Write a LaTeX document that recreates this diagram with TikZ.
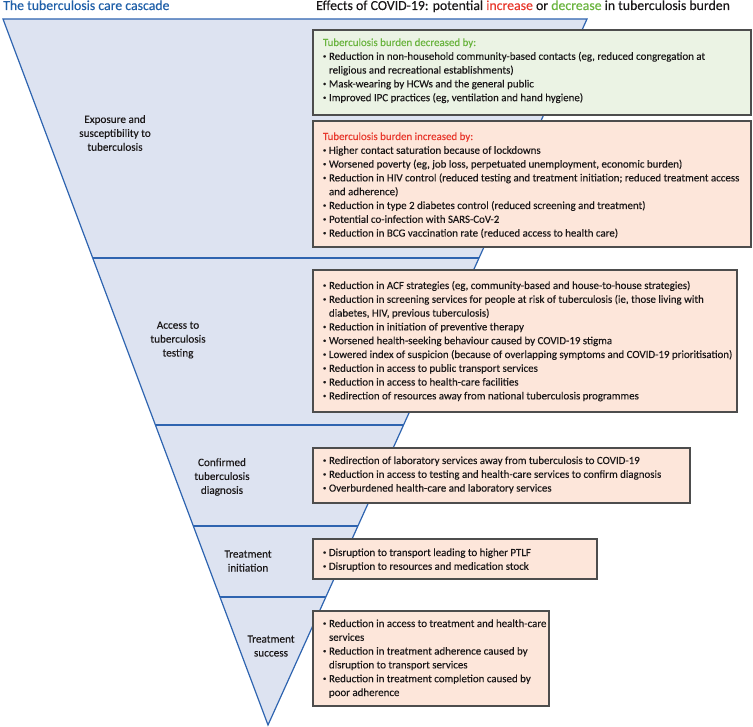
\documentclass[tikz,border=0pt]{standalone}
\usepackage{fontspec}
\setmainfont{Carlito}[UprightFeatures={FakeBold=0.2}]
\usepackage{graphicx}
\usetikzlibrary{calc}
\definecolor{cfill}{HTML}{DDE3F1}
\definecolor{cline}{HTML}{2E64B0}
\definecolor{thead}{HTML}{1F5FA8}
\definecolor{gfill}{HTML}{EBF3E4}
\definecolor{ofill}{HTML}{FDE6DA}
\definecolor{bord}{HTML}{4D4D4D}
\definecolor{tred}{HTML}{E8392E}
\definecolor{tgreen}{HTML}{6AB43F}
\definecolor{tbody}{HTML}{1A1718}
\newcommand{\bodyfont}{\fontsize{10.9}{13.8}\selectfont}
\newcommand{\itm}[1]{\par\noindent\makebox[6pt][l]{\raisebox{0.3ex}{\scalebox{0.6}{\textbullet}}}#1}
\newcommand{\cont}{\\\hspace*{6pt}}
\newcommand{\boxtext}[1]{\parbox[t]{432pt}{\bodyfont\raggedright\parindent=0pt\parskip=0pt #1}}
\tikzset{
  cascade/.style={fill=cfill, draw=cline, line width=1.2pt, line join=miter},
  sepline/.style={draw=cline, line width=1.2pt},
  ebox/.style={draw=bord, line width=1.1pt, anchor=north west, inner sep=0pt, outer sep=0pt},
  gbox/.style={ebox, fill=gfill},
  obox/.style={ebox, fill=ofill},
  txt/.style={anchor=base west, inner sep=0pt, outer sep=0pt, text=tbody},
  lab/.style={align=center, inner sep=0pt, text=tbody, font=\fontsize{11.2}{13.9}\selectfont},
  head/.style={anchor=base west, inner sep=0pt, font=\fontsize{13.8}{15}\selectfont}
}
\begin{document}
\begin{tikzpicture}[x=1pt,y=-1pt]
\useasboundingbox (0,0) rectangle (753,727);
% headers
\node[head, text=thead] (h1) at (3,10) {The tuberculosis care cascade};
\node[head, text=tbody] (h2) at (316,10) {Effects of COVID-19: potential \textcolor{tred}{increase} or \textcolor{tgreen}{decrease} in tuberculosis burden};
% cascade
\coordinate (tl) at (3,19);
\coordinate (tr) at (587,19);
\coordinate (ap) at (268,725);
\draw[cascade] (tl) -- (tr) -- (ap) -- cycle;
\foreach \yy in {258,425,526,597}
  \draw[sepline] ($(tl)!{(\yy-19)/706}!(ap)$) -- ($(tr)!{(\yy-19)/706}!(ap)$);
% labels
\node[lab] (l1) at (115,133) {Exposure and\\susceptibility to\\tuberculosis};
\node[lab] (l2) at (178,340) {Access to\\tuberculosis\\testing};
\node[lab] (l3) at (222,477) {Confirmed\\tuberculosis\\diagnosis};
\node[lab] (l4) at (248,561) {Treatment\\initiation};
\node[lab] (l5) at (271,646) {Treatment\\success};
% boxes
\node[gbox, minimum width=438pt, minimum height=85pt] (b1) at (313,30) {};
\node[obox, minimum width=438pt, minimum height=126pt] (b2) at (313,121) {};
\node[obox, minimum width=424pt, minimum height=142pt] (b3) at (313,270) {};
\node[obox, minimum width=377pt, minimum height=55pt] (b4) at (313,448) {};
\node[obox, minimum width=284pt, minimum height=40pt] (b5) at (313,539) {};
\node[obox, minimum width=236pt, minimum height=95pt] (b6) at (313,611) {};
% box texts
\node[txt] (t1) at (323,46) {\boxtext{%
\noindent\textcolor{tgreen}{Tuberculosis burden decreased by:}
\itm{Reduction in non-household community-based contacts (eg, reduced congregation at\cont religious and recreational establishments)}
\itm{Mask-wearing by HCWs and the general public}
\itm{Improved IPC practices (eg, ventilation and hand hygiene)}}};
\node[txt] (t2) at (323,140) {\boxtext{%
\noindent\textcolor{tred}{Tuberculosis burden increased by:}
\itm{Higher contact saturation because of lockdowns}
\itm{Worsened poverty (eg, job loss, perpetuated unemployment, economic burden)}
\itm{Reduction in HIV control (reduced testing and treatment initiation; reduced treatment access\cont and adherence)}
\itm{Reduction in type 2 diabetes control (reduced screening and treatment)}
\itm{Potential co-infection with SARS-CoV-2}
\itm{Reduction in BCG vaccination rate (reduced access to health care)}}};
\node[txt] (t3) at (323,289) {\boxtext{%
\itm{Reduction in ACF strategies (eg, community-based and house-to-house strategies)}
\itm{Reduction in screening services for people at risk of tuberculosis (ie, those living with\cont diabetes, HIV, previous tuberculosis)}
\itm{Reduction in initiation of preventive therapy}
\itm{Worsened health-seeking behaviour caused by COVID-19 stigma}
\itm{Lowered index of suspicion (because of overlapping symptoms and COVID-19 prioritisation)}
\itm{Reduction in access to public transport services}
\itm{Reduction in access to health-care facilities}
\itm{Redirection of resources away from national tuberculosis programmes}}};
\node[txt] (t4) at (323,464) {\boxtext{%
\itm{Redirection of laboratory services away from tuberculosis to COVID-19}
\itm{Reduction in access to testing and health-care services to confirm diagnosis}
\itm{Overburdened health-care and laboratory services}}};
\node[txt] (t5) at (323,556) {\boxtext{%
\itm{Disruption to transport leading to higher PTLF}
\itm{Disruption to resources and medication stock}}};
\node[txt] (t6) at (323,627) {\boxtext{%
\itm{Reduction in access to treatment and health-care\cont services}
\itm{Reduction in treatment adherence caused by\cont disruption to transport services}
\itm{Reduction in treatment completion caused by\cont poor adherence}}};
\end{tikzpicture}
\end{document}
